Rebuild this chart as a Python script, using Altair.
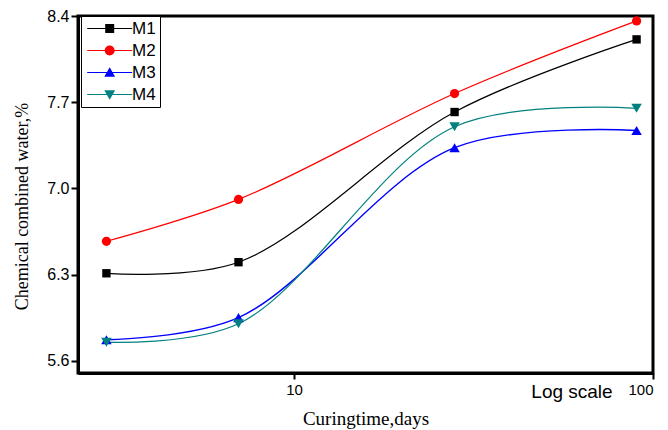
import altair as alt
import pandas as pd

days = [3, 7, 28, 90]
series_names = ["M1", "M2", "M3", "M4"]
M1 = [6.31, 6.40, 7.62, 8.21]
M2 = [6.57, 6.91, 7.77, 8.36]
M3 = [5.77, 5.95, 7.33, 7.47]
M4 = [5.75, 5.90, 7.50, 7.65]
values = [M1, M2, M3, M4]
colors = ["#000000", "#FF0000", "#0000FF", "#008080"]
shapes = ["square", "circle", "triangle-up", "triangle-down"]
sizes = [70, 85, 110, 110]
widths = [1.2, 1.2, 1.4, 1.2]
y_ticks = [5.6, 6.3, 7.0, 7.7, 8.4]
x_ticks = [10, 100]

rows = []
for name, vals in zip(series_names, values):
    for d, v in zip(days, vals):
        rows.append({"series": name, "days": d, "value": v})
df = pd.DataFrame(rows)

# legend symbols: line segment + marker (unit = sqrt(size)/2)
a, b, m, t = -1.4, 8.6, 3.6, 0.12
line = f"M{a},-{t}H{b}V{t}H{a}Z "
leg_paths = [
    line + f"M{m-1},-1H{m+1}V1H{m-1}Z",
    line + f"M{m+1.1},0A1.1,1.1 0 1,1 {m-1.1},0A1.1,1.1 0 1,1 {m+1.1},0Z",
    line + f"M{m},-1.15L{m+1.2},0.95H{m-1.2}Z",
    line + f"M{m},1.15L{m-1.2},-0.95H{m+1.2}Z",
]

x_scale = alt.Scale(type="log", domain=[2.5, 100], nice=False)
y_scale = alt.Scale(domain=[5.5, 8.4], nice=False, zero=False)

x_axis = alt.Axis(values=x_ticks, format="d", title="Curingtime,days",
                  titleFont="Liberation Serif", titleFontSize=19, titleFontWeight="normal",
                  titleColor="black", titlePadding=12,
                  labelFont="Liberation Sans", labelFontSize=15, labelColor="black",
                  labelPadding=3, tickSize=6, tickWidth=2, tickColor="black",
                  domainColor="black", domainWidth=3, grid=False)
y_axis = alt.Axis(values=y_ticks, format=".1f", title="Chemical combined water,%",
                  titleFont="Liberation Serif", titleFontSize=18, titleFontWeight="normal",
                  titleColor="black", titleX=-47, titleY=190,
                  labelFont="Liberation Sans", labelFontSize=16, labelColor="black",
                  labelPadding=2, tickSize=7, tickWidth=2, tickColor="black",
                  domainColor="black", domainWidth=3, grid=False)

X = alt.X("days:Q", scale=x_scale, axis=x_axis)
Y = alt.Y("value:Q", scale=y_scale, axis=y_axis)

base = alt.Chart(df)
layers = []
for i, name in enumerate(series_names):
    sub = base.transform_filter(alt.datum.series == name)
    layers.append(sub.mark_line(interpolate="catmull-rom", color=colors[i],
                                strokeWidth=widths[i]).encode(x=X, y=Y))
for i, name in enumerate(series_names):
    sub = base.transform_filter(alt.datum.series == name)
    layers.append(sub.mark_point(shape=shapes[i], filled=True, color=colors[i],
                                 opacity=1, size=sizes[i]).encode(x=X, y=Y))

legend = alt.Legend(title=None, orient="none", legendX=3, legendY=0,
                    labelFont="Liberation Sans", labelFontSize=17, labelColor="black",
                    labelOffset=30, symbolSize=81, symbolStrokeWidth=0,
                    strokeColor="black", padding=4, rowPadding=4, fillColor="white")
legend_layer = base.transform_filter("false").mark_point(filled=True, opacity=1).encode(
    x=X, y=Y,
    color=alt.Color("series:N", scale=alt.Scale(domain=series_names, range=colors), legend=legend),
    shape=alt.Shape("series:N", scale=alt.Scale(domain=series_names, range=leg_paths), legend=legend),
)
layers.append(legend_layer)

log_text = alt.Chart(pd.DataFrame({"t": ["Log scale"]})).mark_text(
    font="Liberation Sans", fontSize=19, color="black", align="center", baseline="middle"
).encode(x=alt.value(494), y=alt.value(376), text="t:N")
layers.append(log_text)

chart = alt.layer(*layers).properties(
    width=575, height=357, autosize="none",
    padding={"left": 78, "top": 16, "right": 15, "bottom": 57},
    background="white",
).configure_view(stroke="black", strokeWidth=3)

chart.save("out.html", embed_options={"renderer": "svg", "actions": False})
